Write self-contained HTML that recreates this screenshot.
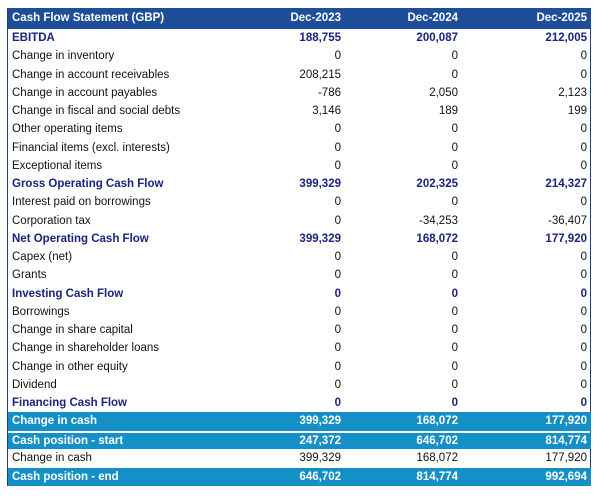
<!DOCTYPE html><html><head><style>
body{margin:0;background:#fff;font-family:"Liberation Sans",sans-serif;}
#t{position:absolute;left:7px;top:8px;width:584px;height:478px;border:1.5px solid #1f3f85;border-top:none;box-sizing:border-box;}
.r{position:absolute;left:8px;width:583px;height:18.25px;font-size:11.5px;line-height:18.25px;color:#111;}
.r span{position:absolute;}
.l{left:4px}.a{right:250px}.b{right:133px}.c{right:4px}
.h{background:#1e4e9a;color:#fff;font-weight:bold;height:21px;line-height:21px;}
.bd{font-weight:bold;color:#1a237e;}
.bl{background:#1590c6;color:#fff;font-weight:bold;}
</style></head><body>
<div id="t"></div>
<div class="r h" style="top:8px"><span class="l">Cash Flow Statement (GBP)</span><span class="a">Dec-2023</span><span class="b">Dec-2024</span><span class="c">Dec-2025</span></div>
<div id="rows"></div>
<script>
var d=[["EBITDA","188,755","200,087","212,005",1],["Change in inventory","0","0","0"],["Change in account receivables","208,215","0","0"],["Change in account payables","-786","2,050","2,123"],["Change in fiscal and social debts","3,146","189","199"],["Other operating items","0","0","0"],["Financial items (excl. interests)","0","0","0"],["Exceptional items","0","0","0"],["Gross Operating Cash Flow","399,329","202,325","214,327",1],["Interest paid on borrowings","0","0","0"],["Corporation tax","0","-34,253","-36,407"],["Net Operating Cash Flow","399,329","168,072","177,920",1],["Capex (net)","0","0","0"],["Grants","0","0","0"],["Investing Cash Flow","0","0","0",1],["Borrowings","0","0","0"],["Change in share capital","0","0","0"],["Change in shareholder loans","0","0","0"],["Change in other equity","0","0","0"],["Dividend","0","0","0"],["Financing Cash Flow","0","0","0",1],["Change in cash","399,329","168,072","177,920",2]];
var h="";
d.forEach(function(x,i){var c=x[4]==1?"bd":x[4]==2?"bl":"";h+='<div class="r '+c+'" style="top:'+(29+i*18.25)+'px"><span class="l">'+x[0]+'</span><span class="a">'+x[1]+'</span><span class="b">'+x[2]+'</span><span class="c">'+x[3]+'</span></div>';});
var e=[["Cash position - start","247,372","646,702","814,774",433,16,2],["Change in cash","399,329","168,072","177,920",449,19,0],["Cash position - end","646,702","814,774","992,694",468,18,2]];
e.forEach(function(x){h+='<div class="r '+(x[6]?"bl":"")+'" style="top:'+x[4]+'px;height:'+x[5]+'px;line-height:'+x[5]+'px"><span class="l">'+x[0]+'</span><span class="a">'+x[1]+'</span><span class="b">'+x[2]+'</span><span class="c">'+x[3]+'</span></div>';});
document.getElementById("rows").innerHTML=h;
</script>
</body></html>
